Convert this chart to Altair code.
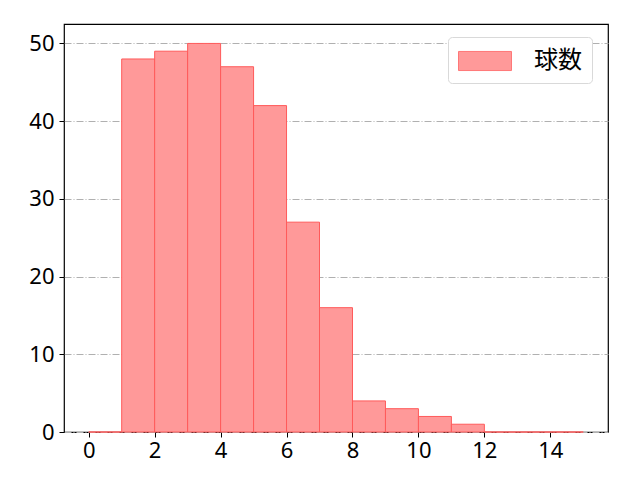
import altair as alt
import pandas as pd

bin_start = [0, 1, 2, 3, 4, 5, 6, 7, 8, 9, 10, 11, 12, 13, 14]
bin_end = [1, 2, 3, 4, 5, 6, 7, 8, 9, 10, 11, 12, 13, 14, 15]
counts = [0, 48, 49, 50, 47, 42, 27, 16, 4, 3, 2, 1, 0, 0, 0]
label = "球数"

df = pd.DataFrame({"start": bin_start, "end": bin_end, "count": counts, "label": [label] * len(counts)})

FONT = "Noto Sans CJK JP"
NUMFONT = "Noto Sans"

chart = alt.Chart(df).mark_bar(
    stroke="#ff5a5a", strokeWidth=1, opacity=1
).encode(
    x=alt.X("start:Q", scale=alt.Scale(domain=[-0.75, 15.75], nice=False, zero=False),
            axis=alt.Axis(values=[0, 2, 4, 6, 8, 10, 12, 14], title=None, grid=False,
                          labelFontSize=22, labelFont=NUMFONT, tickSize=5, labelPadding=3,
                          domain=False, tickColor="black", labelColor="black", format="d")),
    x2="end:Q",
    y=alt.Y("count:Q", scale=alt.Scale(domain=[0, 52.5], nice=False),
            axis=alt.Axis(values=[0, 10, 20, 30, 40, 50], title=None, grid=True,
                          gridColor="#b0b0b0", gridDash=[7, 2, 1, 2], gridWidth=1,
                          labelFontSize=22, labelFont=NUMFONT, tickSize=5, labelPadding=5,
                          domain=False, tickColor="black", labelColor="black")),
    y2=alt.datum(0),
    color=alt.Color("label:N", scale=alt.Scale(range=["#ff9999"]),
                    legend=alt.Legend(title=None, orient="none", legendX=384, legendY=13,
                                      symbolType="M-2,-0.72L2,-0.72L2,0.72L-2,0.72Z",
                                      symbolSize=702, symbolOffset=13, symbolStrokeColor="#ff7777",
                                      symbolStrokeWidth=1, symbolOpacity=1,
                                      labelFontSize=24, labelFont=FONT, labelColor="black",
                                      labelOffset=35, padding=10,
                                      strokeColor="#d9d9d9", fillColor="white",
                                      cornerRadius=4)),
).properties(
    width=544, height=408, padding={"left": 56, "top": 16, "right": 20, "bottom": 40},
    autosize=alt.AutoSizeParams(type="none")
).configure(
    font=FONT
).configure_view(
    stroke="black", strokeWidth=1.2
)

chart.save("out.html", embed_options={"renderer": "svg", "actions": False})
